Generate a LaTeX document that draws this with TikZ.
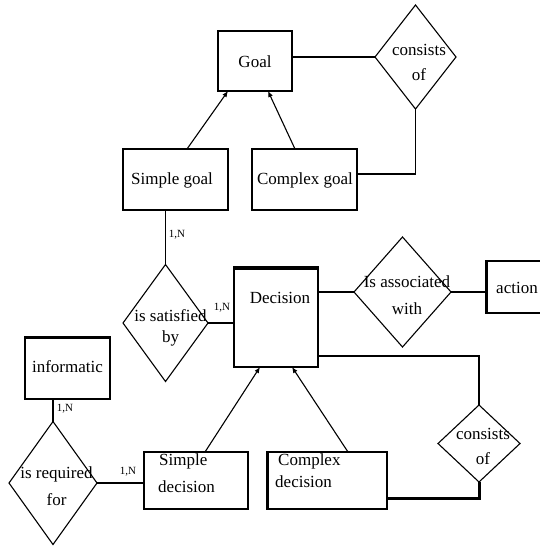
\documentclass[tikz,border=0pt]{standalone}
\usepackage{fontspec}
\setmainfont{Liberation Serif}
\usetikzlibrary{shapes.geometric,arrows.meta,calc}
\tikzset{
  ent/.style={draw, rectangle, line width=2.2pt, inner sep=0pt, outer sep=0pt},
  rel/.style={draw, diamond, line width=1.1pt, inner sep=0pt, outer sep=0pt},
  txt/.style={inner sep=0pt, align=center, font=\fontsize{17}{20}\selectfont},
  card/.style={inner sep=0pt, font=\fontsize{11}{13}\selectfont},
  conn/.style={line width=1.1pt},
  isa/.style={line width=1.1pt, -{Latex[length=6pt,width=5pt]}},
  heavy/.style={line width=3pt}
}
\begin{document}
\begin{tikzpicture}[x=1pt,y=-1pt]
\useasboundingbox (0,0) rectangle (540,546);
\fill[white] (0,0) rectangle (540,546);
\clip (0,0) rectangle (540,546);

% entities
\node[ent, minimum width=74pt, minimum height=60pt] (goal) at (255,61) {};
\node[ent, minimum width=105pt, minimum height=61pt] (sg) at (175.5,179.5) {};
\node[ent, minimum width=105pt, minimum height=61pt] (cg) at (304.5,179.5) {};
\node[ent, minimum width=84pt, minimum height=100pt] (dec) at (276,317) {};
\node[ent, minimum width=70pt, minimum height=52pt] (act) at (521,287) {};
\node[ent, minimum width=85pt, minimum height=62pt] (info) at (67.5,368) {};
\node[ent, minimum width=104pt, minimum height=57pt] (sd) at (196,480.5) {};
\node[ent, minimum width=120pt, minimum height=57pt] (cd) at (327,480.5) {};

% heavier edges
\draw[line width=4.5pt] ([yshift=-1pt]dec.north west) -- ([yshift=-1pt]dec.north east);
\draw[line width=3.5pt] ([yshift=-0.5pt]info.north west) -- ([yshift=-0.5pt]info.north east);
\draw[line width=3.5pt] ([xshift=0.5pt]act.north west) -- ([xshift=0.5pt]act.south west);
\draw[line width=3pt] ([xshift=0.5pt]cd.north west) -- ([xshift=0.5pt]cd.south west);

% relationships
\node[rel, minimum width=81pt, minimum height=104pt] (d1) at (415.5,57) {};
\node[rel, minimum width=85pt, minimum height=117pt] (d2) at (165.5,323) {};
\node[rel, minimum width=97pt, minimum height=110pt] (d3) at (402.5,292) {};
\node[rel, minimum width=82pt, minimum height=77pt] (d4) at (479,443.5) {};
\node[rel, minimum width=88pt, minimum height=123pt] (d5) at (53,483) {};

% texts
\node[txt] (tgoal) at (255,62) {Goal};
\node[txt] (td1) at (419,62.5) {consists\\[5pt]of};
\node[txt] (tsg) at (172,180) {Simple goal};
\node[txt] (tcg) at (305,180) {Complex goal};
\node[txt] (td2) at (170.5,327.5) {is satisfied\\[1pt]by};
\node[txt] (tdec) at (280,298) {Decision};
\node[txt] (td3) at (407,295.5) {Is associated\\[7pt]with};
\node[txt] (tact) at (517,288) {action};
\node[txt] (tinfo) at (67.5,367) {informatic};
\node[txt] (td5) at (56.5,486.5) {is required\\[7pt]for};
\node[txt, align=left, anchor=west] (tsd) at (158,473.5) {\hspace*{1pt}Simple\\[7pt]decision};
\node[txt, align=left, anchor=west] (tcd) at (275,471) {\hspace*{3pt}Complex\\[2pt]decision};
\node[txt] (td4) at (483,446.5) {consists\\[5pt]of};

% cardinalities
\node[card] (c1) at (177,235) {1,N};
\node[card] (c2) at (222,308) {1,N};
\node[card] (c3) at (65,409) {1,N};
\node[card] (c4) at (128,472) {1,N};

% generalisation arrows
\draw[isa] ([xshift=64pt]sg.north west) -- ([xshift=10pt]goal.south west);
\draw[isa] ([xshift=43pt]cg.north west) -- ([xshift=50pt]goal.south west);
\draw[isa] ([xshift=61pt]sd.north west) -- ([xshift=26pt]dec.south west);
\draw[isa] ([xshift=81pt]cd.north west) -- ([xshift=58pt]dec.south west);

% connectors
\draw[conn] (d1.west) -- (d1.west -| goal.east);
\draw[conn] ([yshift=5.5pt]cg.east) -| (d1.south);
\draw[conn] (d2.north |- sg.south) -- (d2.north);
\draw[conn] (d2.east) -- (d2.east -| dec.west);
\draw[conn] (d3.west) -- (d3.west -| dec.east);
\draw[conn] (d3.east) -- (d3.east -| act.west);
\draw[conn] ([yshift=-39pt]dec.east) -| (d4.north);
\draw[conn] (d5.north |- info.south) -- (d5.north);
\draw[conn] (d5.east) -- (d5.east -| sd.west);
\draw[heavy] ([yshift=-17.5pt]cd.east) -| (d4.south);
\end{tikzpicture}
\end{document}
